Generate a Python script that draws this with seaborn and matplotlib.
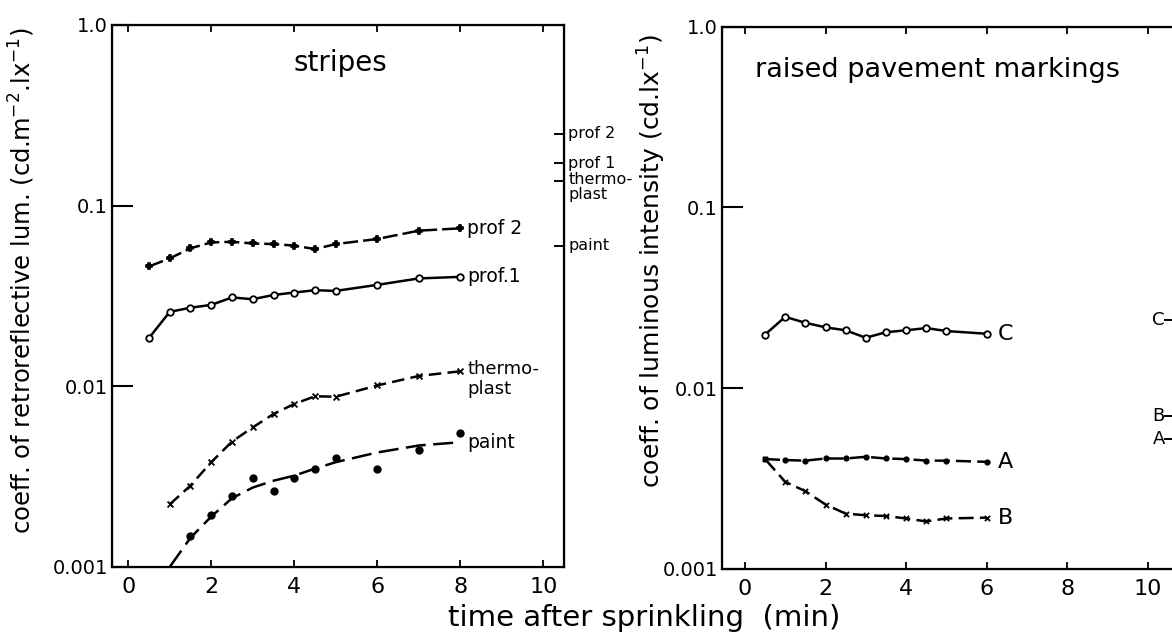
import matplotlib
matplotlib.use("Agg")
import matplotlib.pyplot as plt
import pandas as pd
import seaborn as sns

# stripes: coefficient of retroreflective luminance vs time after sprinkling (min)
prof2_t = [0.5, 1.0, 1.5, 2.0, 2.5, 3.0, 3.5, 4.0, 4.5, 5.0, 6.0, 7.0, 8.0]
prof2_v = [0.046, 0.051, 0.058, 0.0625, 0.063, 0.0617, 0.0612, 0.060, 0.0574, 0.0612, 0.0653, 0.0726, 0.0748]
prof1_t = [0.5, 1.0, 1.5, 2.0, 2.5, 3.0, 3.5, 4.0, 4.5, 5.0, 6.0, 7.0, 8.0]
prof1_v = [0.0185, 0.0258, 0.0272, 0.0282, 0.031, 0.0303, 0.032, 0.033, 0.034, 0.0337, 0.0364, 0.0395, 0.0403]
thermo_t = [1.0, 1.5, 2.0, 2.5, 3.0, 3.5, 4.0, 4.5, 5.0, 6.0, 7.0, 8.0]
thermo_v = [0.00222, 0.00282, 0.0038, 0.00494, 0.00592, 0.00702, 0.00798, 0.0088, 0.00875, 0.0101, 0.0114, 0.0121]
paint_t = [1.5, 2.0, 2.5, 3.0, 3.5, 4.0, 4.5, 5.0, 6.0, 7.0, 8.0]
paint_v = [0.00149, 0.00195, 0.00248, 0.00312, 0.00263, 0.0031, 0.00349, 0.004, 0.00349, 0.00445, 0.00551]
# hand drawn trend line for paint (does not pass through the points)
paint_fit_t = [1.0, 1.5, 2.0, 2.5, 3.0, 3.5, 4.0, 4.5, 5.0, 6.0, 7.0, 8.0]
paint_fit_v = [0.001, 0.00145, 0.0019, 0.0024, 0.00275, 0.003, 0.0032, 0.0035, 0.0038, 0.0043, 0.0047, 0.0049]

# dry reference values marked on the right edge of the stripes panel
stripes_ref_labels = ["prof 2", "prof 1", "thermo-\nplast", "paint"]
stripes_ref_values = [0.25, 0.171, 0.136, 0.06]

# raised pavement markings: coefficient of luminous intensity
rpm_t = [0.5, 1.0, 1.5, 2.0, 2.5, 3.0, 3.5, 4.0, 4.5, 5.0, 6.0]
C_v = [0.0198, 0.0248, 0.023, 0.0217, 0.0209, 0.019, 0.0204, 0.0209, 0.0215, 0.0207, 0.0200]
A_v = [0.00405, 0.0040, 0.00397, 0.00408, 0.00408, 0.00417, 0.00408, 0.00405, 0.00397, 0.00397, 0.00391]
B_v = [0.00405, 0.00303, 0.00269, 0.00227, 0.00202, 0.00198, 0.00196, 0.0019, 0.00183, 0.0019, 0.00192]

rpm_ref_labels = ["C", "B", "A"]
rpm_ref_values = [0.0239, 0.0070, 0.0052]

ytick_vals = [0.001, 0.01, 0.1, 1.0]
ytick_text = ["0.001", "0.01", "0.1", "1.0"]
xtick_vals = [0, 2, 4, 6, 8, 10]

sns.set_style("ticks")
plt.rcParams["font.family"] = ["DejaVu Sans"]
for key in ["text.color", "axes.labelcolor", "xtick.color", "ytick.color", "axes.edgecolor"]:
    plt.rcParams[key] = "black"

fig = plt.figure(figsize=(11.72, 6.37), dpi=100)
ax1 = fig.add_axes([0.0956, 0.110, 0.3857, 0.851])
ax2 = fig.add_axes([0.616, 0.107, 0.3875, 0.851])

LW = 1.8


def series(ax, t, v, dashes, marker, face, size, line=True):
    df = pd.DataFrame({"t": t, "v": v})
    if line:
        sns.lineplot(data=df, x="t", y="v", ax=ax, color="black", lw=LW,
                     dashes=False, sort=True, estimator=None)
        if dashes is not None:
            ax.lines[-1].set_dashes(dashes)
    if marker is not None:
        sns.scatterplot(data=df, x="t", y="v", ax=ax, marker=marker, s=size,
                        facecolor=face, edgecolor="black", color="black",
                        linewidth=1.3, zorder=5)


def style_axes(ax, xlim):
    ax.set_yscale("log")
    ax.set_ylim(0.001, 1.0)
    ax.set_xlim(*xlim)
    ax.set_xticks(xtick_vals)
    ax.set_xticklabels([str(x) for x in xtick_vals])
    ax.set_yticks(ytick_vals)
    ax.set_yticklabels(ytick_text)
    ax.minorticks_off()
    ax.tick_params(axis="x", direction="in", length=5, width=1.3, top=True,
                   labelsize=16, pad=7)
    ax.tick_params(axis="y", direction="in", length=15, width=1.5,
                   labelsize=14, pad=3)
    for sp in ax.spines.values():
        sp.set_linewidth(1.6)
        sp.set_visible(True)
    ax.set_xlabel("")
    ax.set_ylabel("")


# ---- stripes panel ----
series(ax1, prof2_t, prof2_v, (6, 2), "P", "black", 22)
series(ax1, prof1_t, prof1_v, None, "o", "white", 22)
series(ax1, thermo_t, thermo_v, (5, 2.5), "x", "black", 18)
series(ax1, paint_t, paint_v, None, "o", "black", 22, line=False)
series(ax1, paint_fit_t, paint_fit_v, (8, 3), None, None, 0)
style_axes(ax1, (-0.39, 10.5))

ax1.annotate("prof 2", xy=(prof2_t[-1], prof2_v[-1]), xytext=(5, 0),
             textcoords="offset points", va="center", fontsize=13.5)
ax1.annotate("prof.1", xy=(prof1_t[-1], prof1_v[-1]), xytext=(5, 0),
             textcoords="offset points", va="center", fontsize=13.5)
ax1.annotate("thermo-\nplast", xy=(thermo_t[-1], thermo_v[-1]), xytext=(5, 8),
             textcoords="offset points", va="top", fontsize=13, linespacing=1.15)
ax1.annotate("paint", xy=(paint_fit_t[-1], paint_fit_v[-1]), xytext=(5, 0),
             textcoords="offset points", va="center", fontsize=13.5)
ax1.text(5.1, 0.93, "stripes", transform=ax1.get_xaxis_transform(),
         ha="center", va="center", fontsize=20)

tw1 = ax1.twinx()
tw1.set_yscale("log")
tw1.set_ylim(0.001, 1.0)
tw1.set_yticks(stripes_ref_values)
tw1.set_yticklabels([])
tw1.minorticks_off()
tw1.tick_params(axis="y", direction="in", length=7, width=1.4)
for lbl, val in zip(stripes_ref_labels, stripes_ref_values):
    multi = "\n" in lbl
    tw1.annotate(lbl, xy=(1, val), xycoords=("axes fraction", "data"),
                 xytext=(3, 7 if multi else 0), textcoords="offset points",
                 va="top" if multi else "center", ha="left", fontsize=11.5,
                 linespacing=1.05, annotation_clip=False)

fig.text(0.019, 0.56, "coeff. of retroreflective lum. (cd.m$^{-2}$.lx$^{-1}$)",
         rotation=90, ha="center", va="center", fontsize=17.5)

# ---- raised pavement markings panel ----
series(ax2, rpm_t, C_v, None, "o", "white", 22)
series(ax2, rpm_t, A_v, (6, 2.5), "o", "black", 10)
series(ax2, rpm_t, B_v, (6, 2.5), "x", "black", 14)
style_axes(ax2, (-0.57, 10.7))

for lbl, vals in zip(["C", "A", "B"], [C_v, A_v, B_v]):
    ax2.annotate(lbl, xy=(rpm_t[-1], vals[-1]), xytext=(8, 0),
                 textcoords="offset points", va="center", fontsize=16)
ax2.text(0.073, 0.92, "raised pavement markings", transform=ax2.transAxes,
         ha="left", va="center", fontsize=19.5)

tw2 = ax2.twinx()
tw2.set_yscale("log")
tw2.set_ylim(0.001, 1.0)
tw2.set_yticks(rpm_ref_values)
tw2.set_yticklabels([])
tw2.minorticks_off()
tw2.tick_params(axis="y", direction="in", length=9, width=1.4)
for lbl, val in zip(rpm_ref_labels, rpm_ref_values):
    tw2.annotate(lbl, xy=(1, val), xycoords=("axes fraction", "data"),
                 xytext=(-8, 0), textcoords="offset points",
                 va="center", ha="right", fontsize=13)

fig.text(0.556, 0.59, "coeff. of luminous intensity (cd.lx$^{-1}$)",
         rotation=90, ha="center", va="center", fontsize=18)

fig.text(0.55, 0.03, "time after sprinkling  (min)", ha="center",
         va="center", fontsize=21)

fig.savefig("out.png", dpi=100)
